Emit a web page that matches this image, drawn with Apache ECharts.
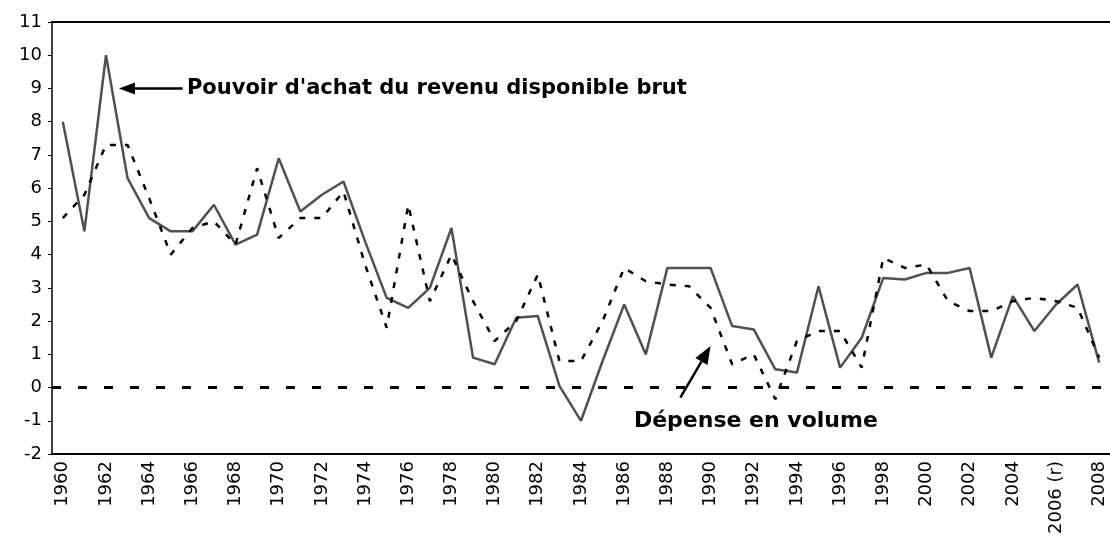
<!DOCTYPE html>
<html>
<head>
<meta charset="utf-8">
<script src="https://cdn.jsdelivr.net/npm/echarts@6/dist/echarts.min.js"></script>
<style>
html,body{margin:0;padding:0;background:#fff;}
#chart{width:1110px;height:537px;}
</style>
</head>
<body>
<div id="chart"></div>
<script>
var years = ['1960','1961','1962','1963','1964','1965','1966','1967','1968','1969',
  '1970','1971','1972','1973','1974','1975','1976','1977','1978','1979',
  '1980','1981','1982','1983','1984','1985','1986','1987','1988','1989',
  '1990','1991','1992','1993','1994','1995','1996','1997','1998','1999',
  '2000','2001','2002','2003','2004','2005','2006 (r)','2007','2008'];

var pouvoirAchat = [8.0, 4.7, 10.0, 6.3, 5.1, 4.7, 4.7, 5.5, 4.3, 4.6,
  6.9, 5.3, 5.8, 6.2, 4.4, 2.7, 2.4, 3.0, 4.8, 0.9,
  0.7, 2.1, 2.15, 0.05, -1.0, 0.8, 2.5, 1.0, 3.6, 3.6,
  3.6, 1.85, 1.75, 0.55, 0.45, 3.05, 0.6, 1.5, 3.3, 3.25,
  3.45, 3.45, 3.6, 0.9, 2.75, 1.7, 2.5, 3.1, 0.75];

var depenseVolume = [5.1, 5.8, 7.3, 7.3, 5.7, 4.0, 4.8, 5.0, 4.3, 6.6,
  4.5, 5.1, 5.1, 5.9, 3.7, 1.8, 5.5, 2.6, 4.0, 2.6,
  1.4, 2.0, 3.4, 0.8, 0.8, 2.0, 3.6, 3.2, 3.1, 3.05,
  2.4, 0.7, 1.0, -0.35, 1.4, 1.7, 1.7, 0.6, 3.9, 3.6,
  3.7, 2.6, 2.3, 2.3, 2.6, 2.7, 2.6, 2.4, 0.9];

var yTicks = {min: -2, max: 11, interval: 1};

var labelPouvoir = "Pouvoir d'achat du revenu disponible brut";
var labelDepense = "Dépense en volume";

var chart = echarts.init(document.getElementById('chart'), null, {renderer: 'canvas'});

var option = {
  backgroundColor: '#ffffff',
  animation: false,
  grid: {left: 52, right: 0, top: 22, bottom: 81, containLabel: false},
  xAxis: [{
    type: 'category',
    data: years,
    boundaryGap: true,
    axisLine: {onZero: false, lineStyle: {color: '#000', width: 2}},
    axisTick: {show: false},
    axisLabel: {
      interval: 1, rotate: 90, margin: 7,
      fontFamily: 'DejaVu Sans', fontSize: 18, color: '#000'
    },
    splitLine: {show: false}
  }, {
    type: 'category',
    data: years,
    position: 'top',
    axisLine: {show: true, onZero: false, lineStyle: {color: '#000', width: 2}},
    axisTick: {show: false},
    axisLabel: {show: false}
  }],
  yAxis: {
    type: 'value',
    min: yTicks.min, max: yTicks.max, interval: yTicks.interval,
    axisLine: {show: true, onZero: false, lineStyle: {color: '#000', width: 1.5}},
    axisTick: {show: true, length: 4, lineStyle: {color: '#000'}},
    axisLabel: {margin: 10, fontFamily: 'DejaVu Sans', fontSize: 18, color: '#000'},
    splitLine: {show: false}
  },
  series: [{
    name: labelPouvoir,
    type: 'line',
    data: pouvoirAchat,
    symbol: 'none',
    lineStyle: {color: '#505050', width: 2.5, type: 'solid'},
    z: 3
  }, {
    name: labelDepense,
    type: 'line',
    data: depenseVolume,
    symbol: 'none',
    lineStyle: {color: '#000', width: 2.5, type: [6, 9]},
    z: 4,
    markLine: {
      silent: true,
      symbol: ['none', 'none'],
      label: {show: false},
      lineStyle: {color: '#000', width: 3, type: [9, 17]},
      data: [{yAxis: 0}]
    }
  }]
};
chart.setOption(option);

// fractional category positions: interpolate between neighbouring category centres
function px(cat, val) {
  var i0 = Math.floor(cat), f = cat - i0;
  var a = chart.convertToPixel({xAxisIndex: 0, yAxisIndex: 0}, [i0, val]);
  var b = chart.convertToPixel({xAxisIndex: 0, yAxisIndex: 0}, [i0 + 1, val]);
  return [a[0] + (b[0] - a[0]) * f, a[1]];
}
function arrow(from, to, headLen, headW) {
  var dx = to[0] - from[0], dy = to[1] - from[1];
  var L = Math.sqrt(dx * dx + dy * dy);
  var ux = dx / L, uy = dy / L;
  var bx = to[0] - ux * headLen, by = to[1] - uy * headLen;
  var nx = -uy, ny = ux;
  return [
    {type: 'line', shape: {x1: from[0], y1: from[1], x2: bx, y2: by},
      style: {stroke: '#000', lineWidth: 2.5}, z: 10},
    {type: 'polygon', shape: {points: [[to[0], to[1]],
      [bx + nx * headW, by + ny * headW], [bx - nx * headW, by - ny * headW]]},
      style: {fill: '#000'}, z: 10}
  ];
}

var pTextPos = px(5.75, 9.0);
var pArrowFrom = px(5.55, 9.0);
var pArrowTo = px(2.6, 9.0);
var dTextPos = px(26.45, -1.0);
var dArrowFrom = px(28.6, -0.3);
var dArrowTo = px(30.0, 1.25);

var graphics = [
  {type: 'text', x: pTextPos[0], y: pTextPos[1], z: 10,
    style: {text: labelPouvoir, fontFamily: 'DejaVu Sans', fontWeight: 'bold', fontSize: 21,
      fill: '#000', textAlign: 'left', textVerticalAlign: 'middle'}},
  {type: 'text', x: dTextPos[0], y: dTextPos[1], z: 10,
    style: {text: labelDepense, fontFamily: 'DejaVu Sans', fontWeight: 'bold', fontSize: 22,
      fill: '#000', textAlign: 'left', textVerticalAlign: 'middle'}}
].concat(arrow(pArrowFrom, pArrowTo, 16, 6)).concat(arrow(dArrowFrom, dArrowTo, 18, 7));

chart.setOption({graphic: graphics});
</script>
</body>
</html>
